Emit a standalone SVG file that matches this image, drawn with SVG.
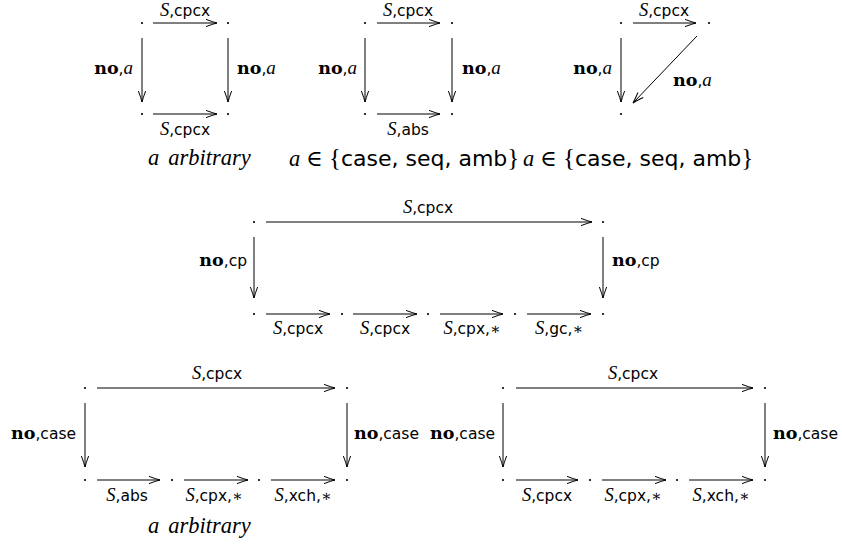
<svg xmlns="http://www.w3.org/2000/svg" width="842" height="548" viewBox="0 0 842 548">
<style>
.bg{fill:#fff}
.dot{fill:#000}
.ar{stroke:#000;stroke-width:1;fill:none;marker-end:url(#tip)}
text{font-family:"DejaVu Sans","Liberation Sans",sans-serif;fill:#000}
.lb{font-size:15.5px}
.cal{font-family:"Liberation Serif","DejaVu Serif",serif;font-style:italic;font-size:18.5px}
.bf{font-family:"DejaVu Serif","Liberation Serif",serif;font-weight:bold;font-size:17.5px}
.mi{font-family:"Liberation Serif","DejaVu Serif",serif;font-style:italic}
.la{font-size:19px}
.rm{font-family:"Liberation Serif","DejaVu Serif",serif}
.cap{font-size:22px}
.capm{font-size:22.5px}
</style>
<defs>
<marker id="tip" markerUnits="userSpaceOnUse" markerWidth="14" markerHeight="10" viewBox="-12 -5 14 10" refX="0" refY="0" orient="auto">
<path d="M-11,-3.6 Q-4,-1 0,0 Q-4,1 -11,3.6" fill="none" stroke="#000" stroke-width="1"/>
</marker>
</defs>
<rect class="bg" width="842" height="548"/>

<!-- Diagram 1 -->
<g id="d1-tl"><circle class="dot" cx="142" cy="23" r="1.1"/></g>
<g id="d1-tr"><circle class="dot" cx="228" cy="23" r="1.1"/></g>
<g id="d1-bl"><circle class="dot" cx="142" cy="114" r="1.1"/></g>
<g id="d1-br"><circle class="dot" cx="228" cy="114" r="1.1"/></g>
<!-- Diagram 2 -->
<g id="d2-tl"><circle class="dot" cx="365" cy="23" r="1.1"/></g>
<g id="d2-tr"><circle class="dot" cx="452" cy="23" r="1.1"/></g>
<g id="d2-bl"><circle class="dot" cx="365" cy="114" r="1.1"/></g>
<g id="d2-br"><circle class="dot" cx="452" cy="114" r="1.1"/></g>
<!-- Diagram 3 -->
<g id="d3-tl"><circle class="dot" cx="621" cy="23" r="1.1"/></g>
<g id="d3-tr"><circle class="dot" cx="709" cy="23" r="1.1"/></g>
<g id="d3-bl"><circle class="dot" cx="621" cy="114" r="1.1"/></g>
<!-- Diagram 4 (middle) -->
<g id="d4-tl"><circle class="dot" cx="254" cy="222" r="1.1"/></g>
<g id="d4-tr"><circle class="dot" cx="603" cy="222" r="1.1"/></g>
<g id="d4-b0"><circle class="dot" cx="254" cy="314" r="1.1"/></g>
<g id="d4-b1"><circle class="dot" cx="342" cy="314" r="1.1"/></g>
<g id="d4-b2"><circle class="dot" cx="428" cy="314" r="1.1"/></g>
<g id="d4-b3"><circle class="dot" cx="515" cy="314" r="1.1"/></g>
<g id="d4-b4"><circle class="dot" cx="603" cy="314" r="1.1"/></g>
<!-- Diagram 5 (bottom left) -->
<g id="d5-tl"><circle class="dot" cx="85" cy="388" r="1.1"/></g>
<g id="d5-tr"><circle class="dot" cx="347" cy="388" r="1.1"/></g>
<g id="d5-b0"><circle class="dot" cx="85" cy="480" r="1.1"/></g>
<g id="d5-b1"><circle class="dot" cx="172" cy="480" r="1.1"/></g>
<g id="d5-b2"><circle class="dot" cx="259" cy="480" r="1.1"/></g>
<g id="d5-b3"><circle class="dot" cx="347" cy="480" r="1.1"/></g>
<!-- Diagram 6 (bottom right) -->
<g id="d6-tl"><circle class="dot" cx="503" cy="388" r="1.1"/></g>
<g id="d6-tr"><circle class="dot" cx="765" cy="388" r="1.1"/></g>
<g id="d6-b0"><circle class="dot" cx="503" cy="480" r="1.1"/></g>
<g id="d6-b1"><circle class="dot" cx="590" cy="480" r="1.1"/></g>
<g id="d6-b2"><circle class="dot" cx="677" cy="480" r="1.1"/></g>
<g id="d6-b3"><circle class="dot" cx="765" cy="480" r="1.1"/></g>

<g id="connectors">
<!-- D1 -->
<line class="ar" x1="153" y1="23" x2="217" y2="23"/>
<line class="ar" x1="153" y1="114" x2="217" y2="114"/>
<line class="ar" x1="142" y1="38" x2="142" y2="102"/>
<line class="ar" x1="228" y1="38" x2="228" y2="102"/>
<!-- D2 -->
<line class="ar" x1="377" y1="23" x2="440" y2="23"/>
<line class="ar" x1="377" y1="114" x2="440" y2="114"/>
<line class="ar" x1="365" y1="38" x2="365" y2="102"/>
<line class="ar" x1="452" y1="38" x2="452" y2="102"/>
<!-- D3 -->
<line class="ar" x1="633" y1="23" x2="696" y2="23"/>
<line class="ar" x1="621" y1="38" x2="621" y2="102"/>
<line class="ar" x1="697" y1="36" x2="633" y2="103"/>
<!-- D4 -->
<line class="ar" x1="266" y1="222" x2="592" y2="222"/>
<line class="ar" x1="254" y1="237" x2="254" y2="298"/>
<line class="ar" x1="603" y1="237" x2="603" y2="298"/>
<line class="ar" x1="266" y1="314" x2="330" y2="314"/>
<line class="ar" x1="353" y1="314" x2="417" y2="314"/>
<line class="ar" x1="440" y1="314" x2="503" y2="314"/>
<line class="ar" x1="527" y1="314" x2="591" y2="314"/>
<!-- D5 -->
<line class="ar" x1="97" y1="388" x2="335" y2="388"/>
<line class="ar" x1="85" y1="403" x2="85" y2="467"/>
<line class="ar" x1="347" y1="403" x2="347" y2="467"/>
<line class="ar" x1="97" y1="480" x2="160" y2="480"/>
<line class="ar" x1="184" y1="480" x2="248" y2="480"/>
<line class="ar" x1="271" y1="480" x2="335" y2="480"/>
<!-- D6 -->
<line class="ar" x1="516" y1="388" x2="753" y2="388"/>
<line class="ar" x1="503" y1="403" x2="503" y2="467"/>
<line class="ar" x1="765" y1="403" x2="765" y2="467"/>
<line class="ar" x1="516" y1="480" x2="578" y2="480"/>
<line class="ar" x1="602" y1="480" x2="666" y2="480"/>
<line class="ar" x1="689" y1="480" x2="753" y2="480"/>
</g>

<g id="labels" class="lb">
<!-- D1 -->
<text x="185" y="15.5" text-anchor="middle"><tspan class="cal">S</tspan>,cpcx</text>
<text x="185" y="135" text-anchor="middle"><tspan class="cal">S</tspan>,cpcx</text>
<text x="133" y="74" text-anchor="end"><tspan class="bf">no</tspan>,<tspan class="mi la">a</tspan></text>
<text x="237" y="74"><tspan class="bf">no</tspan>,<tspan class="mi la">a</tspan></text>
<!-- D2 -->
<text x="408" y="15.5" text-anchor="middle"><tspan class="cal">S</tspan>,cpcx</text>
<text x="408" y="135" text-anchor="middle"><tspan class="cal">S</tspan>,abs</text>
<text x="357" y="74" text-anchor="end"><tspan class="bf">no</tspan>,<tspan class="mi la">a</tspan></text>
<text x="462" y="74"><tspan class="bf">no</tspan>,<tspan class="mi la">a</tspan></text>
<!-- D3 -->
<text x="664" y="15.5" text-anchor="middle"><tspan class="cal">S</tspan>,cpcx</text>
<text x="612" y="74" text-anchor="end"><tspan class="bf">no</tspan>,<tspan class="mi la">a</tspan></text>
<text x="673" y="86"><tspan class="bf">no</tspan>,<tspan class="mi la">a</tspan></text>
<!-- D4 -->
<text x="428" y="213" text-anchor="middle"><tspan class="cal">S</tspan>,cpcx</text>
<text x="247" y="266" text-anchor="end"><tspan class="bf">no</tspan>,cp</text>
<text x="612" y="266"><tspan class="bf">no</tspan>,cp</text>
<text x="298" y="334" text-anchor="middle"><tspan class="cal">S</tspan>,cpcx</text>
<text x="385" y="334" text-anchor="middle"><tspan class="cal">S</tspan>,cpcx</text>
<text x="472" y="334" text-anchor="middle"><tspan class="cal">S</tspan>,cpx,<tspan class="rm">∗</tspan></text>
<text x="559" y="334" text-anchor="middle"><tspan class="cal">S</tspan>,gc,<tspan class="rm">∗</tspan></text>
<!-- D5 -->
<text x="217" y="379" text-anchor="middle"><tspan class="cal">S</tspan>,cpcx</text>
<text x="76" y="439" text-anchor="end"><tspan class="bf">no</tspan>,case</text>
<text x="354" y="439"><tspan class="bf">no</tspan>,case</text>
<text x="127" y="501" text-anchor="middle"><tspan class="cal">S</tspan>,abs</text>
<text x="214" y="501" text-anchor="middle"><tspan class="cal">S</tspan>,cpx,<tspan class="rm">∗</tspan></text>
<text x="303" y="501" text-anchor="middle"><tspan class="cal">S</tspan>,xch,<tspan class="rm">∗</tspan></text>
<!-- D6 -->
<text x="633" y="379" text-anchor="middle"><tspan class="cal">S</tspan>,cpcx</text>
<text x="495" y="439" text-anchor="end"><tspan class="bf">no</tspan>,case</text>
<text x="773" y="439"><tspan class="bf">no</tspan>,case</text>
<text x="547" y="501" text-anchor="middle"><tspan class="cal">S</tspan>,cpcx</text>
<text x="633" y="501" text-anchor="middle"><tspan class="cal">S</tspan>,cpx,<tspan class="rm">∗</tspan></text>
<text x="721" y="501" text-anchor="middle"><tspan class="cal">S</tspan>,xch,<tspan class="rm">∗</tspan></text>
</g>

<g id="captions" class="cap">
<text class="capm" x="148" y="165"><tspan class="mi">a</tspan><tspan class="mi" dx="9">arbitrary</tspan></text>
<text x="289" y="166"><tspan class="mi capm">a</tspan><tspan class="rm capm" dx="6">∈</tspan><tspan class="rm" dx="6" font-size="25">{</tspan>case, seq, amb<tspan class="rm" font-size="25">}</tspan></text>
<text x="523" y="166"><tspan class="mi capm">a</tspan><tspan class="rm capm" dx="6">∈</tspan><tspan class="rm" dx="6" font-size="25">{</tspan>case, seq, amb<tspan class="rm" font-size="25">}</tspan></text>
<text class="capm" x="148" y="533"><tspan class="mi">a</tspan><tspan class="mi" dx="9">arbitrary</tspan></text>
</g>
</svg>
